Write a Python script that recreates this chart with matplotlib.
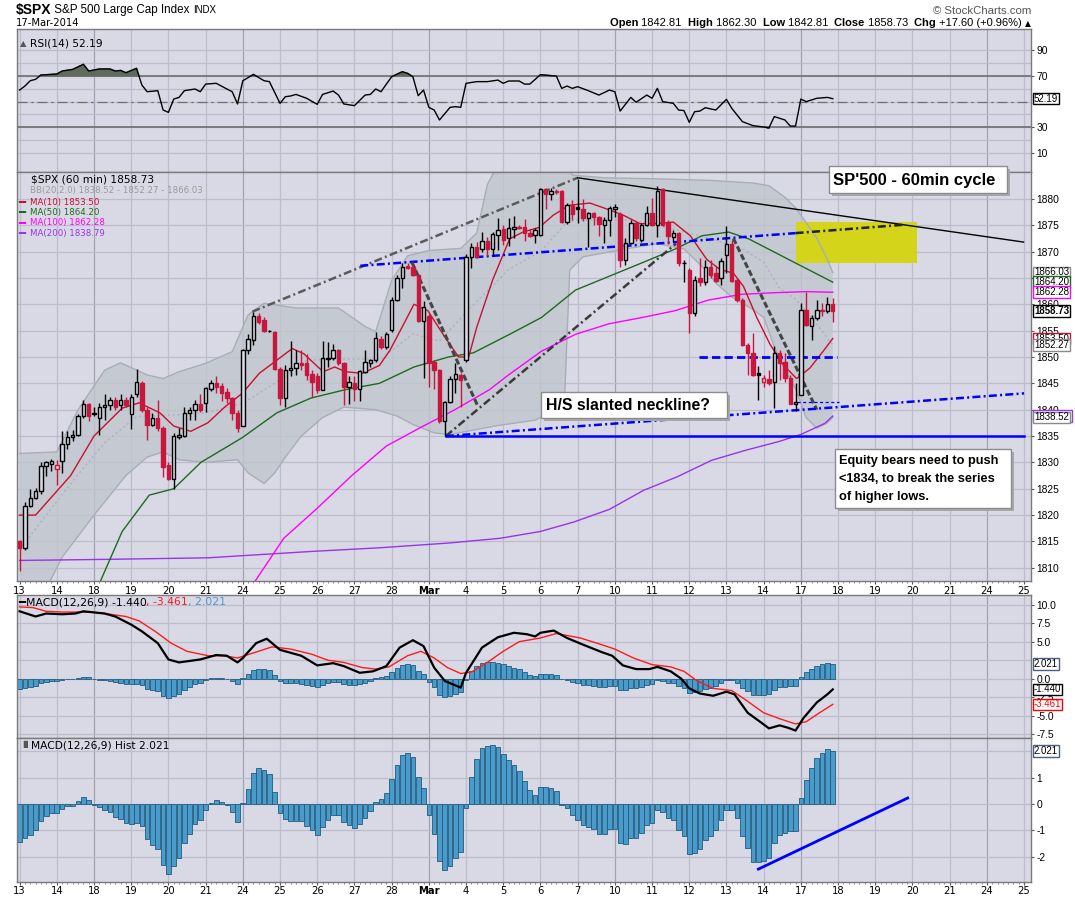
import matplotlib
matplotlib.use("Agg")
import matplotlib.pyplot as plt
from matplotlib.patches import Rectangle
import numpy as np

# ---------------- data (60 min bars, 7 per session) ----------------
days = ['13', '14', '18', '19', '20', '21', '24', '25', '26', '27', '28', 'Mar', '4', '5',
        '6', '7', '10', '11', '12', '13', '14', '17', '18', '19', '20', '21', '24', '25']

opens = [1815.0, 1813.8, 1821.8, 1823.3, 1824.6, 1829.3, 1829.7,
         1828.7, 1830.2, 1833.4, 1834.9, 1835.2, 1838.8, 1841.1,
         1839.2, 1838.4, 1840.6, 1840.8, 1841.9, 1840.8, 1841.9,
         1839.2, 1843.0, 1845.0, 1839.9, 1837.1, 1838.4, 1836.6,
         1829.5, 1826.9, 1834.9, 1835.1, 1839.3, 1840.0, 1841.1,
         1841.3, 1843.9, 1845.1, 1844.5, 1843.3, 1842.2, 1839.3,
         1836.9, 1851.3, 1853.3, 1857.8, 1857.0, 1854.9, 1854.7,
         1847.8, 1842.3, 1847.6, 1848.0, 1848.9, 1848.8, 1846.8,
         1846.3, 1843.8, 1849.7, 1849.9, 1851.3, 1848.9, 1844.4,
         1845.1, 1843.9, 1847.2, 1848.8, 1849.5, 1853.4, 1851.8,
         1855.2, 1860.9, 1864.9, 1867.2, 1867.0, 1865.5, 1856.9,
         1857.7, 1849.0, 1847.5, 1837.8, 1841.4, 1845.8, 1846.6,
         1849.4, 1868.9, 1870.8, 1870.4, 1872.0, 1870.4, 1873.2,
         1874.3, 1872.5, 1874.3, 1874.5, 1874.6, 1873.6, 1873.2,
         1873.2, 1881.8, 1881.0, 1881.3, 1881.4, 1875.7, 1878.9,
         1878.5, 1878.0, 1876.4, 1877.3, 1876.6, 1875.1, 1876.0,
         1878.0, 1877.2, 1868.4, 1871.7, 1875.4, 1872.2, 1875.1,
         1877.3, 1875.1, 1881.8, 1875.4, 1872.7, 1873.5, 1867.8,
         1866.5, 1858.3, 1864.9, 1864.3, 1867.0, 1865.9, 1864.9,
         1869.4, 1871.5, 1864.6, 1860.8, 1852.3, 1850.8, 1847.0,
         1845.2, 1845.8, 1845.2, 1850.8, 1849.1, 1846.1, 1841.0,
         1842.81, 1858.9, 1855.9, 1857.4, 1859.0, 1858.8, 1860.1]

highs = [1815.2, 1822.5, 1825.0, 1825.1, 1830.0, 1830.3, 1830.6,
         1830.5, 1835.9, 1835.9, 1836.2, 1839.1, 1841.9, 1841.3,
         1840.6, 1841.2, 1843.0, 1842.5, 1842.5, 1843.0, 1842.5,
         1843.0, 1847.7, 1845.5, 1840.6, 1839.4, 1841.9, 1837.0,
         1830.0, 1835.5, 1836.6, 1840.6, 1840.6, 1841.9, 1843.0,
         1844.4, 1845.6, 1846.4, 1845.0, 1844.1, 1842.5, 1840.0,
         1851.6, 1854.4, 1858.6, 1858.4, 1857.5, 1855.2, 1855.0,
         1848.1, 1848.4, 1853.1, 1851.3, 1851.3, 1850.6, 1847.5,
         1846.9, 1853.1, 1852.8, 1852.5, 1851.6, 1849.1, 1846.3,
         1846.3, 1847.5, 1851.3, 1849.7, 1854.7, 1853.9, 1854.7,
         1861.3, 1865.6, 1867.8, 1867.8, 1867.5, 1865.6, 1860.6,
         1858.1, 1849.4, 1847.8, 1841.6, 1846.3, 1848.8, 1846.9,
         1869.5, 1871.6, 1871.9, 1873.8, 1872.8, 1873.8, 1876.4,
         1875.1, 1876.4, 1876.7, 1875.1, 1876.1, 1874.2, 1874.5,
         1882.1, 1882.1, 1882.1, 1881.8, 1881.6, 1879.3, 1879.8,
         1883.8, 1880.0, 1877.5, 1877.6, 1876.8, 1876.6, 1878.6,
         1879.0, 1877.6, 1872.5, 1876.0, 1875.7, 1875.4, 1878.6,
         1880.2, 1882.5, 1882.0, 1876.0, 1874.1, 1873.8, 1868.4,
         1866.8, 1865.3, 1868.7, 1868.4, 1868.4, 1867.2, 1868.7,
         1874.8, 1872.2, 1864.9, 1861.2, 1852.6, 1854.5, 1848.2,
         1846.6, 1847.6, 1852.0, 1851.4, 1850.7, 1846.6, 1845.0,
         1860.2, 1862.3, 1858.0, 1860.8, 1860.2, 1861.3, 1861.2]

lows = [1809.4, 1813.4, 1821.5, 1823.0, 1824.0, 1827.5, 1828.4,
        1825.8, 1828.0, 1832.5, 1834.0, 1835.0, 1838.5, 1837.8,
        1838.8, 1835.2, 1838.0, 1840.0, 1840.0, 1840.0, 1840.5,
        1836.3, 1842.5, 1839.5, 1834.3, 1836.9, 1836.0, 1827.2,
        1826.6, 1824.9, 1834.5, 1834.8, 1838.1, 1838.1, 1839.5,
        1839.5, 1843.5, 1843.1, 1841.6, 1841.3, 1838.1, 1835.8,
        1836.9, 1850.6, 1852.2, 1856.3, 1854.7, 1854.7, 1847.5,
        1840.9, 1840.5, 1846.3, 1846.6, 1847.5, 1845.6, 1842.5,
        1843.1, 1843.8, 1848.1, 1849.4, 1848.4, 1840.9, 1841.1,
        1841.6, 1841.7, 1846.9, 1848.1, 1849.1, 1851.6, 1851.6,
        1854.7, 1860.6, 1863.1, 1866.6, 1865.3, 1856.6, 1846.0,
        1844.4, 1844.0, 1837.5, 1835.0, 1841.3, 1843.1, 1840.6,
        1849.0, 1866.8, 1868.7, 1869.9, 1869.2, 1869.4, 1870.3,
        1871.3, 1871.0, 1872.5, 1874.2, 1872.0, 1872.7, 1871.7,
        1873.0, 1878.0, 1879.8, 1881.0, 1875.5, 1875.2, 1876.0,
        1875.4, 1875.8, 1870.8, 1875.0, 1873.0, 1871.7, 1873.0,
        1876.5, 1867.1, 1867.4, 1871.5, 1872.0, 1871.8, 1874.8,
        1874.8, 1872.8, 1874.8, 1871.5, 1872.0, 1867.2, 1864.3,
        1854.5, 1857.7, 1863.4, 1863.7, 1864.9, 1864.3, 1863.7,
        1865.9, 1864.3, 1860.5, 1852.0, 1846.6, 1846.3, 1841.9,
        1844.4, 1844.7, 1840.3, 1845.7, 1845.3, 1841.0, 1839.7,
        1842.81, 1855.9, 1853.3, 1857.0, 1857.7, 1858.3, 1856.7]

closes = [1813.8, 1821.8, 1823.3, 1824.6, 1829.3, 1830.0, 1830.2,
          1829.5, 1833.4, 1834.9, 1835.2, 1838.8, 1841.1, 1838.8,
          1839.2, 1840.6, 1840.9, 1841.9, 1840.6, 1841.9, 1840.9,
          1842.5, 1845.2, 1839.9, 1837.1, 1838.4, 1836.6, 1829.1,
          1826.9, 1835.1, 1835.2, 1839.3, 1840.0, 1841.1, 1839.9,
          1844.1, 1845.0, 1844.4, 1843.1, 1842.2, 1839.3, 1836.6,
          1851.3, 1853.4, 1857.8, 1856.6, 1854.9, 1854.9, 1847.8,
          1842.3, 1847.6, 1848.0, 1848.8, 1848.4, 1846.6, 1845.3,
          1843.8, 1849.8, 1849.9, 1851.3, 1848.8, 1844.4, 1845.3,
          1843.9, 1847.4, 1849.0, 1849.5, 1853.6, 1851.8, 1854.4,
          1860.9, 1864.9, 1867.0, 1866.9, 1865.5, 1856.9, 1859.5,
          1848.8, 1847.5, 1837.8, 1841.4, 1845.8, 1846.7, 1845.6,
          1868.9, 1870.8, 1868.9, 1872.0, 1870.4, 1873.4, 1874.1,
          1872.2, 1874.5, 1874.6, 1874.5, 1873.5, 1873.0, 1874.0,
          1881.8, 1881.0, 1881.4, 1881.3, 1875.7, 1878.9, 1877.2,
          1878.0, 1876.4, 1877.3, 1876.6, 1875.3, 1876.0, 1878.2,
          1878.4, 1868.4, 1871.7, 1875.4, 1872.5, 1875.1, 1877.3,
          1875.1, 1881.5, 1875.1, 1872.9, 1873.5, 1867.8, 1867.8,
          1858.3, 1864.6, 1864.3, 1867.0, 1865.6, 1864.5, 1868.3,
          1871.5, 1864.5, 1860.8, 1852.3, 1850.8, 1846.6, 1846.6,
          1846.0, 1845.0, 1850.8, 1848.8, 1846.1, 1841.0, 1841.4,
          1858.9, 1856.1, 1857.4, 1858.9, 1858.8, 1860.1, 1858.73]

# overlays, read as (bar, value) points
bb_upper = [(0, 1831.7), (7, 1832.0), (11, 1840.0), (16, 1847.5), (19, 1848.9), (24, 1846.6),
            (27, 1845.9), (30, 1847.2), (35, 1848.8), (40, 1851.0), (43, 1858.0), (46, 1860.2),
            (52, 1859.3), (60, 1859.3), (65, 1855.8), (67, 1854.8), (70, 1864.5), (73, 1869.2),
            (77, 1870.2), (83, 1870.6), (86, 1873.5), (88, 1882.7), (90, 1886.5), (103, 1887.5),
            (104, 1884.5), (110, 1884.0), (120, 1883.8), (130, 1883.5), (138, 1883.0),
            (141, 1882.5), (144, 1880.3), (146, 1878.3), (148, 1875.5), (150, 1872.5),
            (152, 1868.5), (153, 1866.03)]
bb_mid = [(0, 1813.5), (10, 1826.5), (16, 1833.7), (22, 1838.7), (29, 1839.0), (35, 1839.4),
          (42, 1841.2), (48, 1845.0), (54, 1849.4), (61, 1849.6), (68, 1849.6), (74, 1854.4),
          (79, 1853.0), (85, 1859.5), (92, 1866.6), (98, 1870.0), (103, 1875.6), (105, 1876.0),
          (115, 1876.0), (123, 1874.3), (130, 1872.5), (136, 1870.5), (140, 1868.0),
          (143, 1863.0), (146, 1861.0), (149, 1857.5), (153, 1852.27)]
bb_lower = [(0, 1795.0), (5, 1806.0), (8, 1812.0), (14, 1820.0), (20, 1827.5), (24, 1831.0),
            (27, 1832.0), (30, 1830.5), (35, 1830.0), (41, 1830.5), (43, 1828.0), (46, 1826.0),
            (48, 1828.0), (50, 1831.0), (53, 1835.0), (57, 1838.5), (61, 1840.5), (67, 1840.0),
            (71, 1838.8), (74, 1837.2), (78, 1835.6), (81, 1835.3), (90, 1837.0), (97, 1838.0),
            (102.5, 1841.0), (103.5, 1866.5), (106, 1869.0), (114, 1870.5), (120, 1871.5),
            (125, 1870.5), (129, 1866.6), (131, 1864.0), (134, 1861.4), (138, 1859.0),
            (140, 1857.5), (142, 1852.0), (144, 1847.5), (146, 1844.0), (148, 1838.5),
            (150, 1836.5), (152, 1837.5), (153, 1838.52)]
ma10 = [(0, 1820.0), (3, 1820.0), (9.6, 1827.5), (14, 1835.0), (19.3, 1840.3), (22.5, 1841.3),
        (26.4, 1839.4), (29, 1836.9), (32.2, 1835.9), (35.4, 1837.5), (38.7, 1840.6),
        (41.9, 1843.1), (45.1, 1846.9), (48.4, 1849.4), (51.3, 1851.6), (53.5, 1850.6),
        (57.1, 1847.2), (59.3, 1848.1), (61.3, 1847.2), (64.5, 1846.9), (67.7, 1848.4),
        (69.7, 1851.3), (72.3, 1856.3), (74.2, 1860.0), (76.8, 1858.8), (80, 1853.8),
        (82.6, 1850.0), (84.5, 1850.0), (86, 1855.6), (89, 1864.6), (92.2, 1872.4),
        (94.7, 1873.7), (97.8, 1874.6), (100.4, 1876.9), (103.5, 1878.8), (107.3, 1879.2),
        (111, 1877.9), (113.6, 1876.9), (116.7, 1875.3), (119.9, 1875.3), (123, 1875.6),
        (126.2, 1873.0), (129.3, 1868.5), (131.8, 1866.6), (134.3, 1865.9), (136.2, 1863.4),
        (138.7, 1857.5), (141.2, 1852.4), (143.7, 1848.5), (146.2, 1845.9), (148.7, 1847.9),
        (151.2, 1851.1), (153, 1853.5)]
ma50 = [(15, 1807.0), (19.3, 1816.9), (24.4, 1823.8), (29, 1825.0), (34.1, 1830.0),
        (41.9, 1834.7), (48.4, 1839.4), (54.8, 1842.2), (61.3, 1843.8), (67.7, 1845.0),
        (74.2, 1848.1), (80.7, 1850.0), (85.4, 1850.8), (92.2, 1854.3), (98.2, 1857.5),
        (104.6, 1862.7), (110.9, 1865.3), (117.2, 1867.9), (123.4, 1870.5), (128.4, 1873.0),
        (133.4, 1873.7), (137.2, 1872.4), (142.2, 1869.8), (147.2, 1867.2), (153, 1864.2)]
ma100 = [(44, 1807.0), (49.7, 1815.6), (56, 1821.3), (62.5, 1827.5), (69, 1833.1),
         (75.4, 1836.6), (81.9, 1840.0), (88.4, 1843.8), (92, 1846.6), (98.2, 1851.1),
         (104.6, 1854.3), (110.9, 1856.3), (117.2, 1857.5), (123.4, 1858.8), (129.6, 1860.8),
         (135.9, 1861.9), (142.2, 1862.2), (148, 1862.4), (153, 1862.28)]
ma200 = [(0, 1811.4), (16, 1811.6), (35.4, 1811.9), (54.8, 1813.1), (67.7, 1813.8),
         (80.7, 1814.7), (90.4, 1815.6), (98, 1816.9), (104.3, 1818.7), (111, 1821.1),
         (117.4, 1824.7), (123.8, 1827.3), (130.2, 1830.4), (136.6, 1832.3), (143, 1834.0),
         (147, 1835.3), (151.5, 1837.4), (153, 1838.79)]

rsi = [(0, 58.9), (1, 62.0), (2, 66.1), (3, 67.2), (4, 70.5), (7, 71.3), (8, 73.6), (10, 74.9),
       (12, 78.8), (13, 73.6), (15, 75.2), (17, 75.2), (18, 73.6), (19, 74.1), (20, 72.3),
       (22, 75.7), (23, 62.8), (24, 57.6), (26, 58.4), (27, 43.4), (28, 41.6), (29, 51.9),
       (30, 53.2), (31, 58.4), (33, 59.7), (34, 57.6), (35, 63.5), (37, 64.1), (39, 59.7),
       (40, 57.6), (41, 48.1), (42, 66.1), (44, 71.0), (46, 66.1), (47, 65.4), (49, 48.6),
       (50, 53.7), (51, 54.3), (52, 55.5), (54, 52.5), (56, 47.8), (57, 55.5), (59, 58.1),
       (60, 55.0), (61, 48.1), (63, 46.8), (65, 55.0), (66, 55.5), (67, 59.7), (68, 57.6),
       (70, 69.2), (72, 73.1), (73, 71.8), (74, 69.2), (75, 54.5), (76, 58.9), (77, 45.5),
       (78, 43.4), (79, 35.7), (81, 45.5), (82, 46.0), (83, 45.5), (84, 64.1), (86, 65.4),
       (88, 65.4), (90, 66.6), (91, 64.1), (92, 65.9), (94, 65.9), (95, 63.5), (96, 63.5),
       (98, 70.8), (101, 69.7), (102, 60.2), (103, 62.0), (104, 60.2), (105, 61.5), (107, 58.4),
       (109, 55.0), (111, 58.9), (112, 57.5), (113, 42.6), (115, 53.2), (116, 49.4), (118, 55.0),
       (119, 52.5), (120, 60.2), (121, 49.9), (123, 48.6), (124, 43.4), (125, 43.0), (126, 33.9),
       (127, 42.1), (128, 42.6), (129, 45.2), (131, 43.4), (133, 51.7), (134, 44.7), (136, 34.4),
       (138, 31.3), (141, 29.7), (142, 38.3), (144, 35.7), (145, 31.0), (146, 31.0), (147, 51.9),
       (148, 49.9), (150, 52.5), (152, 53.2), (153, 52.19)]

macd = [(0, 9.1), (3, 8.4), (5, 8.8), (8, 8.7), (10.5, 8.8), (12, 9.1), (16, 8.8), (18, 8.4),
        (21, 7.3), (23, 6.4), (26, 4.8), (28, 2.6), (30, 2.2), (34, 2.6), (37, 3.2), (39, 3.1),
        (41, 2.2), (42, 2.8), (44.5, 4.8), (46.5, 5.4), (49, 3.9), (53, 3.1), (56, 1.8), (59, 2.1),
        (61, 1.7), (64, 0.8), (66.5, 1.0), (69, 1.7), (71.5, 4.2), (74, 5.2), (76, 4.4), (78, 1.5),
        (80, -0.3), (83, -1.2), (84, 0.8), (87, 4.2), (90, 5.6), (93, 6.2), (95.5, 6.0), (97, 5.7),
        (98, 6.2), (100.5, 6.5), (103, 5.5), (106, 4.6), (109.5, 3.6), (111.5, 3.1), (113.5, 1.8),
        (116, 1.3), (118.5, 1.3), (120, 1.6), (122.5, 1.0), (124.5, 0.0), (126, -1.3), (128, -2.0),
        (130.5, -2.3), (133, -1.75), (134.5, -2.1), (137, -4.6), (139.5, -5.9), (141, -6.7),
        (143, -6.3), (144.5, -6.6), (146, -7.0), (147.5, -5.3), (150, -3.2), (152, -2.1),
        (153, -1.44)]
signal = [(0, 9.7), (2.5, 9.6), (5, 9.1), (8, 9.0), (13.5, 9.0), (16, 8.8), (20, 8.4), (22.5, 7.8),
          (25.5, 6.4), (28.5, 4.8), (31.5, 3.7), (35.5, 3.1), (38.5, 3.1), (41, 2.8), (44.5, 3.6),
          (47.5, 4.3), (51, 4.0), (55, 3.3), (58, 2.5), (61, 2.2), (64.5, 1.5), (67, 1.3),
          (69.5, 1.6), (73, 3.1), (75.5, 3.7), (78, 2.8), (80.5, 1.5), (83, 0.7), (85, 0.9),
          (88, 2.2), (91, 3.7), (94, 5.0), (98, 5.5), (101, 6.1), (105.5, 5.5), (109.5, 4.6),
          (112, 4.0), (115.5, 2.8), (119, 1.9), (122.5, 1.6), (125, 1.0), (127.5, -0.3),
          (130.5, -1.3), (134, -1.6), (136.5, -2.8), (140, -4.6), (143, -5.4), (146, -6.1),
          (148, -5.8), (150.5, -4.6), (153, -3.46)]
hist = [-1.45, -1.30, -1.17, -0.98, -0.64, -0.47, -0.34,
        -0.34, -0.18, -0.09, -0.06, 0.10, 0.27, 0.17,
        -0.05, -0.11, -0.22, -0.32, -0.50, -0.57, -0.72,
        -0.75, -0.72, -0.85, -1.33, -1.55, -1.72, -2.31,
        -2.66, -2.35, -2.06, -1.49, -1.13, -0.76, -0.60,
        -0.22, 0.04, 0.14, 0.08, -0.03, -0.32, -0.69,
        0.04, 0.58, 1.18, 1.36, 1.31, 1.14, 0.46,
        -0.34, -0.56, -0.64, -0.64, -0.66, -0.85, -1.00,
        -1.17, -0.88, -0.60, -0.41, -0.41, -0.69, -0.81,
        -0.91, -0.76, -0.53, -0.28, 0.08, 0.19, 0.42,
        0.97, 1.50, 1.86, 1.94, 1.79, 1.03, 0.61,
        -0.43, -1.13, -2.16, -2.50, -2.34, -2.03, -1.83,
        -0.15, 1.03, 1.72, 2.13, 2.20, 2.25, 2.17,
        1.92, 1.69, 1.50, 1.25, 0.86, 0.55, 0.33,
        0.64, 0.64, 0.60, 0.48, -0.03, -0.15, -0.43,
        -0.60, -0.79, -0.88, -0.95, -1.14, -1.14, -0.95,
        -0.95, -1.49, -1.52, -1.30, -1.30, -1.10, -0.79,
        -0.72, -0.22, -0.32, -0.53, -0.60, -1.00, -1.23,
        -1.90, -1.84, -1.72, -1.36, -1.23, -1.00, -0.60,
        -0.22, -0.22, -0.53, -1.21, -1.65, -2.19, -2.19,
        -2.15, -2.06, -1.49, -1.17, -1.08, -1.04, -1.04,
        0.23, 0.93, 1.37, 1.75, 1.94, 2.10, 2.021]

# ---------------- figure ----------------
W, H = 1075, 897
fig = plt.figure(figsize=(W / 100, H / 100), dpi=100)
fig.patch.set_facecolor('white')

BG = '#d9d9e6'
GRID = '#bcbccd'
GRID_DARK = '#a2a2b6'
RED = '#c8163c'
BLUE = '#0000ff'
HISTC = '#4a9acb'
FS = 7.2          # date labels / legends
YFS = 7.4         # right axis labels (Arial-like)
TFS = 7.0         # value tags
AX_FONT = 'Liberation Sans'
week_starts = [2, 6, 11, 16, 21, 26]


def panel(top, bottom, ylim, yticks, ylabels):
    ax = fig.add_axes([17 / W, 1 - bottom / H, 1014 / W, (bottom - top) / H])
    ax.set_facecolor(BG)
    for s in ax.spines.values():
        s.set_color('#7a7a7a')
        s.set_linewidth(1)
    ax.set_xlim(-0.49, 190.3)
    ax.set_ylim(*ylim)
    ax.yaxis.tick_right()
    ax.set_yticks(yticks)
    ax.set_yticklabels(ylabels, family=AX_FONT)
    ax.tick_params(axis='y', labelsize=YFS, length=2, pad=2, color='#555')
    ax.set_xticks([7 * d for d in range(len(days))])
    ax.set_xticks(np.arange(0, 190, 1), minor=True)
    ax.tick_params(axis='x', which='major', length=2, pad=1.5, labelsize=FS, color='#555')
    ax.tick_params(axis='x', which='minor', length=1.5, color='#777')
    ax.tick_params(axis='y', which='minor', length=0)
    for d in range(len(days)):
        ax.axvline(7 * d, color=GRID_DARK if d in week_starts else GRID, lw=0.9, zorder=0.5)
    for t in yticks:
        ax.axhline(t, color=GRID, lw=0.9, zorder=0.5)
    ax.set_xticklabels([])
    return ax


def date_labels(ax):
    ax.set_xticklabels(days)
    for lbl in ax.get_xticklabels():
        if lbl.get_text() == 'Mar':
            lbl.set_fontweight('bold')


def tag(ax, y, s, ec, tc='black', bold=False):
    ax.text(1.003, y, s, transform=ax.get_yaxis_transform(), fontsize=TFS, family=AX_FONT,
            va='center', ha='left', color=tc, fontweight='bold' if bold else 'normal',
            zorder=10, clip_on=False,
            bbox=dict(boxstyle='square,pad=0.08', fc='white', ec=ec, lw=1))


def xy(pts):
    return [p[0] for p in pts], [p[1] for p in pts]


renderer = fig.canvas.get_renderer()


def pieces(x, y, parts, fs, right=False, z=6):
    arts, cx = [], x
    for s, kw in parts:
        props = dict(fontsize=fs, va='center', ha='left', zorder=z)
        props.update(kw)
        t = fig.text(cx / W, 1 - y / H, s, **props)
        cx += t.get_window_extent(renderer).width
        arts.append(t)
    if right:
        shift = (cx - x) / W
        for t in arts:
            px, py = t.get_position()
            t.set_position((px - shift, py))


def note_box(x0, y0, x1, y1):
    fig.add_artist(Rectangle(((x0 + 3) / W, 1 - (y1 + 3) / H), (x1 - x0) / W, (y1 - y0) / H,
                             transform=fig.transFigure, fc='#a8a8a8', ec='none', zorder=20))
    fig.add_artist(Rectangle((x0 / W, 1 - y1 / H), (x1 - x0) / W, (y1 - y0) / H,
                             transform=fig.transFigure, fc='white', ec='#8c8c8c', lw=1, zorder=21))


# ---------------- RSI panel ----------------
ax_rsi = panel(29.5, 172.5, (-5, 105.8), [10, 30, 70, 90], ['10', '30', '70', '90'])
for lvl in [20, 40, 50, 60, 80]:
    ax_rsi.axhline(lvl, color=GRID, lw=0.9, zorder=0.5)
ax_rsi.axhline(70, color='#6e6e6e', lw=1.2, zorder=1)
ax_rsi.axhline(30, color='#6e6e6e', lw=1.2, zorder=1)
ax_rsi.axhline(50, color='#6e6e6e', lw=0.9, ls=(0, (8, 3, 2, 3)), zorder=1)
rx, rv = xy(rsi)
rx, rv = np.array(rx, float), np.array(rv, float)
ax_rsi.fill_between(rx, rv, 70, where=rv >= 70, interpolate=True, color='#5d6a5d', zorder=2)
ax_rsi.fill_between(rx, rv, 30, where=rv <= 30, interpolate=True, color='#5d6a5d', zorder=2)
ax_rsi.plot(rx, rv, color='black', lw=1.0, zorder=3)
tag(ax_rsi, 52.19, '52.19', 'black')
ax_rsi.text(0.013, 0.9, 'RSI(14) 52.19', transform=ax_rsi.transAxes, fontsize=FS + 0.5,
            va='center', ha='left')
ax_rsi.text(0.003, 0.9, '\u25B2', transform=ax_rsi.transAxes, fontsize=6, color='#555',
            va='center', ha='left')

# ---------------- price panel ----------------
pt = list(range(1810, 1885, 5))
ax = panel(172.5, 581, (1807.5, 1885.0), pt, [str(v) for v in pt])
date_labels(ax)

ux, uy = xy(bb_upper)
lx, ly = xy(bb_lower)
ax.fill(ux + lx[::-1], uy + ly[::-1], color='#c0c6cd', alpha=0.8, lw=0, zorder=1)
ax.plot(ux, uy, color='#a9adb5', lw=1.0, zorder=1.6)
ax.plot(lx, ly, color='#a9adb5', lw=1.0, zorder=1.6)
mx, my = xy(bb_mid)
ax.plot(mx, my, color='#aeb0ba', lw=1.0, ls=(0, (1.5, 2)), zorder=1.6)

# yellow target zone
ax.add_patch(Rectangle((146, 1867.9), 22.9, 7.8, fc='#d4d41a', ec='none', zorder=1.5))

for pts, c in [(ma200, '#9933ee'), (ma100, '#ff00ff'), (ma50, '#1e6a1e'), (ma10, '#c8102e')]:
    px_, py_ = xy(pts)
    ax.plot(px_, py_, color=c, lw=1.0, zorder=3)

# trend lines drawn by the author
dd = (0, (3.2, 1.3, 0.8, 1.3))
ax.plot([43.8, 105], [1858.6, 1884.0], color='#5a5a5a', lw=1.8, ls=dd, zorder=4)
ax.plot([105, 188.9], [1884.0, 1871.8], color='black', lw=1.0, zorder=4)
ax.plot([64.1, 146], [1867.3, 1873.5], color=BLUE, lw=1.8, ls=dd, zorder=4)
ax.plot([146, 166.5], [1873.5, 1875.1], color='#222222', lw=1.8, ls=dd, zorder=4)
ax.plot([73.8, 86.3], [1868.0, 1840.5], color='#454545', lw=2.2, ls=(0, (2, 0.9)), zorder=4)
ax.plot([134.3, 150], [1872.5, 1840.0], color='#454545', lw=2.2, ls=(0, (2, 0.9)), zorder=4)
ax.plot([80.2, 123.5], [1835.0, 1871.5], color='#3a3a3a', lw=1.8, ls=dd, zorder=4)
ax.plot([80.2, 189], [1835.0, 1835.0], color=BLUE, lw=1.8, zorder=4)
ax.plot([80.2, 189], [1835.0, 1843.1], color=BLUE, lw=1.8, ls=dd, zorder=4)
ax.plot([127.9, 153.8], [1850.0, 1850.0], color=BLUE, lw=2.0, ls=(0, (3, 1.5)), zorder=4)
ax.plot([146.2, 154.1], [1841.4, 1841.4], color=BLUE, lw=0.9, ls=(0, (2.5, 2)), zorder=4)

# candles
prev = None
for i, (o, h, l, c) in enumerate(zip(opens, highs, lows, closes)):
    col = RED if (prev is None or c < prev) else 'black'
    filled = c < o
    ax.vlines(i, l, h, color=col, lw=1.0, zorder=5)
    bottom = min(o, c)
    height = max(abs(c - o), 0.12)
    ax.bar(i, height, bottom=bottom, width=0.64, color=col if filled else BG,
           edgecolor=col, lw=1.0, zorder=6)
    prev = c

# value tags on the price axis
tag(ax, 1866.03, '1866.03', '#8a8a8a')
tag(ax, 1864.20, '1864.20', '#1e6a1e')
tag(ax, 1862.28, '1862.28', '#ff00ff')
tag(ax, 1858.73, '1858.73', 'black', bold=True)
tag(ax, 1853.50, '1853.50', '#c8102e')
tag(ax, 1852.27, '1852.27', '#8a8a8a')
tag(ax, 1838.79, '\u2007' * 7, '#9933ee')
tag(ax, 1838.52, '1838.52', '#8a8a8a')

# legend lines of the price panel
LFS = 6.2
pieces(31, 180, [(r'\$SPX (60 min) 1858.73', dict(color='black'))], FS + 0.5)
pieces(29.5, 191, [('BB(20,2.0) 1838.52 - 1852.27 - 1866.03', dict(color='#9a9a9a'))], LFS)
for y_, s, c in [(202, 'MA(10) 1853.50', '#c8102e'), (212.5, 'MA(50) 1864.20', '#1e6a1e'),
                 (223, 'MA(100) 1862.28', '#ff00ff'), (233.5, 'MA(200) 1838.79', '#9933ee')]:
    pieces(18.5, y_, [('\u2501', dict(color=c))], 8.5)
    pieces(29.5, y_, [(s, dict(color=c))], LFS)

# ---------------- MACD panel ----------------
mt = [-7.5, -5.0, -2.5, 0.0, 5.0, 7.5, 10.0]
ax_m = panel(595, 737.7, (-7.96, 11.3), mt, ['%.1f' % v for v in mt])
ax_m.axhline(2.5, color=GRID, lw=0.9, zorder=0.5)
bars = np.arange(len(hist))
ax_m.bar(bars, hist, width=0.88, color=HISTC, edgecolor='#1f5c7c', lw=0.6, zorder=2)
mx_, my_ = xy(signal)
ax_m.plot(mx_, my_, color='#ff1a1a', lw=1.0, zorder=3)
mx_, my_ = xy(macd)
ax_m.plot(mx_, my_, color='black', lw=1.6, zorder=4)
tag(ax_m, 2.021, '2.021', '#4a6080')
tag(ax_m, -1.440, '-1.440', 'black')
tag(ax_m, -3.461, '-3.461', '#ff0000', tc='#ff0000')
pieces(18.5, 602.5, [('\u2501', dict(color='black', fontsize=8.5)),
                     ('MACD(12,26,9) -1.440', dict(color='black')),
                     (', -3.461', dict(color='#ff1a1a')), (', 2.021', dict(color=HISTC))], FS + 0.6)

# ---------------- histogram panel ----------------
ax_h = panel(737.7, 881.5, (-2.94, 2.52), [-2, -1, 0, 1], ['-2', '-1', '0', '1'])
ax_h.axhline(2, color=GRID, lw=0.9, zorder=0.5)
date_labels(ax_h)
ax_h.bar(bars, hist, width=0.88, color=HISTC, edgecolor='#1f5c7c', lw=0.6, zorder=2)
ax_h.plot([139, 167.1], [-2.47, 0.23], color=BLUE, lw=2.0, zorder=4)
tag(ax_h, 2.021, '2.021', '#4a6080')
pieces(31, 745, [('MACD(12,26,9) Hist 2.021', dict(color='black'))], FS + 0.5)
ax_h.text(0.003, 0.95, '\u2590\u258C', transform=ax_h.transAxes, fontsize=5, color='#555',
          va='center', ha='left')

# ---------------- header ----------------
pieces(16, 10, [(r'\$SPX', dict(color='black', fontweight='bold', fontsize=10, family=AX_FONT)),
                (' S&P 500 Large Cap Index ', dict(color='black', fontsize=8.4, family=AX_FONT)),
                ('INDX', dict(color='black', fontsize=7, family=AX_FONT))], 8)
pieces(16, 23.5, [('17-Mar-2014', dict(color='black'))], 7.2)
pieces(1031, 10.5, [('\u00A9 StockCharts.com', dict(color='#555555', family=AX_FONT))], 8.2,
       right=True)
ohlc = [('Open ', True), ('1842.81  ', False), ('High ', True), ('1862.30  ', False),
        ('Low ', True), ('1842.81  ', False), ('Close ', True), ('1858.73  ', False),
        ('Chg ', True), ('+17.60 (+0.96%) ', False)]
pieces(1031, 23.5, [(s, dict(fontweight='bold' if b else 'normal', family=AX_FONT))
                    for s, b in ohlc] + [('\u25B2', dict(fontsize=5.5))], 8.0, right=True)

# ---------------- author notes ----------------
note_box(829, 166, 1007, 193)
fig.text(833 / W, 1 - 180 / H, "SP'500 - 60min cycle", fontsize=12, fontweight='bold',
         family='Liberation Sans', va='center', ha='left', zorder=22)
note_box(541, 392, 727, 418)
fig.text(546 / W, 1 - 405.5 / H, 'H/S slanted neckline?', fontsize=11.4, fontweight='bold',
         family='Liberation Sans', va='center', ha='left', zorder=22)
note_box(835, 449, 1011, 508)
for k, s in enumerate(['Equity bears need to push', '<1834, to break the series',
                       'of higher lows.']):
    fig.text(839 / W, 1 - (461 + 18 * k) / H, s, fontsize=9.2, fontweight='bold',
             family='Liberation Sans', va='center', ha='left', zorder=22)

fig.savefig('out.png', dpi=100, facecolor='white')
